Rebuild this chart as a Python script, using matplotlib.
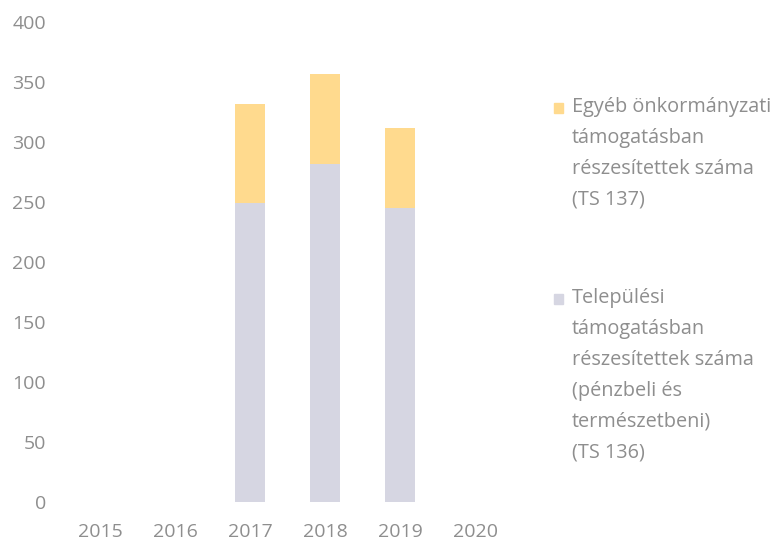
from matplotlib import pyplot as plt
from matplotlib.patches import Rectangle
import numpy as np

years = ["2015", "2016", "2017", "2018", "2019", "2020"]
telepulesi = [0, 0, 249, 282, 245, 0]   # TS 136
egyeb = [0, 0, 83, 75, 67, 0]           # TS 137
yticks = [0, 50, 100, 150, 200, 250, 300, 350, 400]

label_egyeb = "Egyéb önkormányzati\ntámogatásban\nrészesítettek száma\n(TS 137)"
label_telep = ("Települési\ntámogatásban\nrészesítettek száma\n(pénzbeli és\n"
               "természetbeni)\n(TS 136)")

c_gray = "#d6d6e2"
c_orange = "#ffda8e"
c_text = "#8e8e8e"

plt.rcParams['font.family'] = ['Open Sans', 'DejaVu Sans']

W, H = 782, 543
fig = plt.figure(figsize=(W / 100, H / 100), dpi=100)
ax = fig.add_axes([62.5 / W, 41 / H, 450 / W, 480 / H])

x = np.arange(len(years))
ax.bar(x, telepulesi, width=0.39, color=c_gray)
ax.bar(x, egyeb, width=0.39, bottom=telepulesi, color=c_orange)

ax.set_xlim(-0.5, len(years) - 0.5)
ax.set_ylim(0, 400)
ax.set_xticks(x)
ax.set_xticklabels(years)
ax.set_yticks(yticks)
for s in ax.spines.values():
    s.set_visible(False)
ax.tick_params(length=0, labelsize=14, colors=c_text)
ax.tick_params(axis='x', pad=15)
ax.tick_params(axis='y', pad=12)

# legend drawn by hand, Excel style with big gap between entries
for ypix, col, txt in [(108, c_orange, label_egyeb), (299, c_gray, label_telep)]:
    yf = 1 - ypix / H
    fig.patches.append(Rectangle((554 / W, yf - 5 / H), 9 / W, 10 / H,
                                 transform=fig.transFigure, color=col))
    fig.text(572 / W, yf + 10.5 / H, txt, fontsize=14.3, color=c_text,
             va='top', ha='left', linespacing=1.72)

fig.savefig("out.png", dpi=100)
